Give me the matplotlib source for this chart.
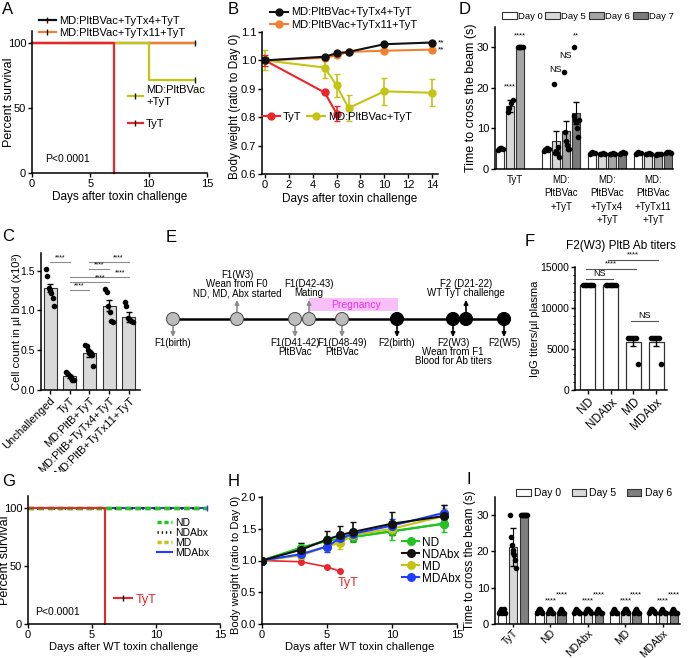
import numpy as np
import matplotlib.pyplot as plt
from matplotlib.lines import Line2D
from matplotlib.patches import Patch, Rectangle, Circle

plt.rcParams['font.family'] = ['Liberation Sans', 'DejaVu Sans']
plt.rcParams['font.size'] = 9
plt.rcParams['axes.linewidth'] = 1.1
plt.rcParams['lines.scale_dashes'] = False

BLACK = '#111111'
ORANGE = '#f47f2f'
YELLOW = '#c4c414'
RED = '#e8262b'
GREEN = '#22c322'
BLUE = '#1f3cff'

# ---------------- data ----------------
# A: survival (step curves)
a_tx4_t, a_tx4_s = [0, 14], [100, 100]
a_tx11_t, a_tx11_s = [0, 14], [100, 100]
a_md_t, a_md_s = [0, 10, 14], [100, 71.4, 71.4]
a_tyt_t, a_tyt_s = [0, 7], [100, 0]

# B: body weight
b_days = [0, 5, 6, 7, 10, 14]
b_tx4 = [1.0, 1.013, 1.025, 1.030, 1.057, 1.063]
b_tx4_err = [0.004, 0.004, 0.004, 0.004, 0.004, 0.004]
b_tx11 = [1.0, 1.009, 1.018, 1.030, 1.034, 1.038]
b_tx11_err = [0.004, 0.004, 0.004, 0.004, 0.004, 0.004]
b_tyt_days = [0, 5, 6]
b_tyt = [1.0, 0.887, 0.813]
b_tyt_err = [0.02, 0.006, 0.025]
b_md = [1.0, 0.975, 0.912, 0.832, 0.891, 0.886]
b_md_err = [0.035, 0.038, 0.04, 0.045, 0.048, 0.047]

# D: beam walk
d_groups = ['TyT', 'MD:\nPltBVac\n+TyT', 'MD:\nPltBVac\n+TyTx4\n+TyT', 'MD:\nPltBVac\n+TyTx11\n+TyT']
d_days = ['Day 0', 'Day 5', 'Day 6', 'Day 7']
d_means = [[5.0, 15.5, 30.0, np.nan],
           [4.8, 7.0, 9.3, 13.8],
           [4.0, 3.8, 3.8, 4.0],
           [4.0, 3.8, 3.6, 4.1]]
d_err = [[0.2, 1.5, 0.0, np.nan],
         [0.3, 2.3, 2.5, 2.7],
         [0.2, 0.2, 0.2, 0.2],
         [0.2, 0.2, 0.2, 0.2]]
d_pts = [[[4.8, 5.0, 5.1, 5.2, 4.9], [14.0, 15.0, 16.2, 17.0], [30, 30, 30, 30, 30], []],
         [[4.5, 4.8, 5.0, 5.2, 4.6, 4.9], [21.0, 4.0, 4.5, 4.0, 5.5, 3.0], [24, 9, 7, 6, 5, 5],
          [30, 13, 12, 11.5, 10, 8, 12]],
         [[3.8, 4.0, 4.2, 4.0, 3.9], [3.6, 3.8, 4.0, 3.8], [3.6, 3.8, 4.0, 3.8], [3.8, 4.0, 4.2, 4.0]],
         [[3.8, 4.0, 4.2, 4.0, 3.9], [3.6, 3.8, 4.0, 3.8], [3.4, 3.6, 3.8, 3.6], [3.9, 4.1, 4.3, 4.0]]]
d_marks = [(0, 1, 19.3, '****'), (0, 2, 32.0, '****'), (1, 1, 23.5, 'NS'),
           (1, 2, 26.8, 'NS'), (1, 3, 32.0, '**')]

# C: cell counts
c_groups = ['Unchallenged', 'TyT', 'MD:PltB+TyT', 'MD:PltB+TyTx4+TyT', 'MD:PltB+TyTx11+TyT']
c_means = [1.28, 0.17, 0.46, 1.06, 0.92]
c_err = [0.055, 0.02, 0.045, 0.07, 0.06]
c_pts = [[1.52, 1.43, 1.28, 1.25, 1.22, 1.15, 1.05],
         [0.23, 0.21, 0.20, 0.18, 0.15, 0.13, 0.12],
         [0.57, 0.55, 0.50, 0.47, 0.46, 0.44, 0.30],
         [1.27, 1.23, 1.05, 0.98, 0.87, 0.85],
         [1.10, 1.05, 0.90, 0.88, 0.87, 0.86]]
c_brackets = [(0, 1, 1.61, 0.5), (2, 4, 1.61, 3.45), (2, 3, 1.52, 2.5),
              (1, 4, 1.42, 3.55), (1, 3, 1.36, 2.55), (1, 2, 1.26, 1.5)]

# E: timeline (events: position, colour, arrow direction, label)
e_events = [(173, 'gray', 'down', 'F1(birth)'),
            (237, 'gray', 'up', 'F1(W3)\nWean from F0\nND, MD, Abx started'),
            (295, 'gray', 'down', 'F1(D41-42)\nPltBVac'),
            (309, 'gray', 'up', 'F1(D42-43)\nMating'),
            (342, 'gray', 'down', 'F1(D48-49)\nPltBVac'),
            (397, 'black', 'down', 'F2(birth)'),
            (453, 'black', 'down', 'F2(W3)\nWean from F1\nBlood for Ab titers'),
            (466, 'black', 'up', 'F2 (D21-22)\nWT TyT challenge'),
            (504, 'black', 'down', 'F2(W5)')]
e_preg = (309, 398)

# F: antibody titers
f_groups = ['ND', 'NDAbx', 'MD', 'MDAbx']
f_means = [12800, 12800, 5867, 5867]
f_err = [0, 0, 533, 533]
f_pts = [[12800] * 7, [12800] * 7, [6400] * 5 + [3200], [6400] * 5 + [3200]]
f_brackets = [(0, 1, 13500, 'NS'), (0, 2, 14750, '****'), (1, 3, 15850, '****'), (2, 3, 8400, 'NS')]

# G: survival WT challenge
g_t = [0, 14]
g_s = [100, 100]
g_tyt_t, g_tyt_s = [0, 6], [100, 0]

# H: body weight WT challenge
h_days = [0, 3, 5, 6, 7, 10, 14]
h_nd = [1.0, 1.20, 1.31, 1.34, 1.37, 1.46, 1.58]
h_nd_err = [0, 0.07, 0.08, 0.08, 0.08, 0.13, 0.13]
h_ndabx = [1.0, 1.17, 1.33, 1.40, 1.45, 1.58, 1.70]
h_ndabx_err = [0, 0.10, 0.13, 0.15, 0.15, 0.18, 0.18]
h_md = [1.0, 1.08, 1.22, 1.28, 1.40, 1.50, 1.70]
h_md_err = [0, 0.05, 0.07, 0.10, 0.08, 0.10, 0.12]
h_mdabx = [1.0, 1.10, 1.22, 1.35, 1.42, 1.55, 1.75]
h_mdabx_err = [0, 0.06, 0.08, 0.10, 0.08, 0.10, 0.12]
h_tyt_days = [0, 3, 5, 6]
h_tyt = [1.0, 0.98, 0.90, 0.83]

# I: beam walk WT challenge
i_groups = ['TyT', 'ND', 'NDAbx', 'MD', 'MDAbx']
i_days = ['Day 0', 'Day 5', 'Day 6']
i_means = [[3.0, 21.3, 30.0], [3.5, 3.3, 3.3], [3.3, 3.5, 3.2], [3.3, 3.5, 3.2], [3.5, 3.3, 3.3]]
i_err = [[0.3, 5.2, 0.0], [0.3, 0.3, 0.3], [0.3, 0.3, 0.3], [0.3, 0.3, 0.3], [0.3, 0.3, 0.3]]
i_pts = [[[3, 3.5, 4, 3, 3.5, 4, 3], [30, 24, 21.7, 20.4, 19.5, 19, 17.6, 15.3], [30] * 7],
         [[3, 3.5, 4, 4, 3.5, 3], [3, 3.5, 4, 3.5, 3, 3], [3, 3.5, 4, 3.5, 3, 3]],
         [[3, 3.5, 4, 3.5, 3, 3], [3, 3.5, 4, 4, 3.5, 3], [3, 3.5, 4, 3.5, 3, 3]],
         [[3, 3.5, 4, 3.5, 3, 3], [3, 3.5, 4, 4, 3.5, 3], [3, 3.5, 4, 3.5, 3, 3]],
         [[3, 3.5, 4, 4, 3.5, 3], [3, 3.5, 4, 3.5, 3, 3], [3, 3.5, 4, 3.5, 3, 3]]]

# ---------------- figure ----------------
W, H = 691, 658
fig = plt.figure(figsize=(W / 100, H / 100), dpi=100)


def add_ax(box, **kw):
    l, t, r, b = box
    ax = fig.add_axes([l / W, 1 - b / H, (r - l) / W, (b - t) / H], **kw)
    ax._box = box
    return ax


def style(ax, fs=8):
    for s in ('top', 'right'):
        ax.spines[s].set_visible(False)
    ax.tick_params(direction='out', length=3, width=1, labelsize=fs, pad=1.2)


def ylab(ax, s, xc, fs=9, yc=None):
    l, t, r, b = ax._box
    ax.set_ylabel(s, fontsize=fs)
    yf = 0.5 if yc is None else (b - yc) / (b - t)
    ax.yaxis.set_label_coords((xc + 0.5 * fs * 1.389 - l) / (r - l), yf)


def xlab(ax, s, yc, fs=9):
    l, t, r, b = ax._box
    ax.set_xlabel(s, fontsize=fs)
    ax.xaxis.set_label_coords(0.5, (b - (yc - 0.55 * fs * 1.389)) / (b - t))


def letter(x, y, s):
    fig.text(x / W, 1 - y / H, s, fontsize=12, va='center', ha='left')


def spread(n, w=0.25):
    return np.linspace(-w, w, n) if n > 1 else np.zeros(n)


# ----- A -----
ax = add_ax((32, 31, 207, 173))
style(ax)
ppu = 175 / 15 * 0.72
ax.step(a_tx4_t, a_tx4_s, where='post', color=BLACK, lw=1.6, clip_on=False)
ax.step(a_tx11_t, a_tx11_s, where='post', color=ORANGE, lw=1.6, clip_on=False,
        linestyle=(4 * ppu, (4 * ppu, 3 * ppu)))
ax.step(a_md_t, a_md_s, where='post', color=YELLOW, lw=1.6)
ax.step(a_tyt_t, a_tyt_s, where='post', color=RED, lw=1.6, clip_on=False)
for t, s in [(a_tx4_t, a_tx4_s), (a_md_t, a_md_s)]:
    ax.plot(t[-1], s[-1], marker='|', color=BLACK, ms=5, mew=1)
ax.set_xlim(0, 15)
ax.set_ylim(0, 109)
ax.set_xticks([0, 5, 10, 15])
ax.set_yticks([0, 50, 100])
xlab(ax, 'Days after toxin challenge', 197, fs=8.5)
ylab(ax, 'Percent survival', 9)
ax.text(0.075, 0.08, 'P<0.0001', transform=ax.transAxes, fontsize=7.5)
leg = ax.legend([Line2D([], [], color=BLACK, lw=1.6, marker='|', ms=4),
                 Line2D([], [], color=ORANGE, lw=1.6, marker='|', ms=4, mec=BLACK)],
                ['MD:PltBVac+TyTx4+TyT', 'MD:PltBVac+TyTx11+TyT'],
                loc='center left', bbox_to_anchor=(0.04, 1.03), frameon=False,
                fontsize=8, handlelength=1.5, handletextpad=0.3, labelspacing=0.15,
                borderaxespad=0, borderpad=0)
ax.add_artist(leg)
ax.legend([Line2D([], [], color=YELLOW, lw=1.6, marker='|', ms=4, mec=BLACK),
           Line2D([], [], color=RED, lw=1.6, marker='|', ms=4, mec=BLACK)],
          ['MD:PltBVac\n+TyT', 'TyT'], loc='upper left', bbox_to_anchor=(0.55, 0.62),
          frameon=False, fontsize=8, handlelength=1.3, handletextpad=0.3,
          labelspacing=1.1, borderaxespad=0, borderpad=0)
letter(2, 9, 'A')

# ----- B -----
ax = add_ax((262, 32, 438, 174))
style(ax)
kw = dict(marker='o', ms=5, lw=1.5, capsize=2.5, elinewidth=1.2)
ax.errorbar(b_days, b_md, yerr=b_md_err, color=YELLOW, **kw)
ax.errorbar(b_tyt_days, b_tyt, yerr=b_tyt_err, color=RED, **kw)
ax.errorbar(b_days, b_tx11, yerr=b_tx11_err, color=ORANGE, **kw)
ax.errorbar(b_days, b_tx4, yerr=b_tx4_err, color=BLACK, **kw)
ax.text(14.45, b_tx4[-1], '**', fontsize=6, va='center')
ax.text(14.45, b_tx11[-1], '**', fontsize=6, va='center')
ax.set_xlim(-0.25, 14.5)
ax.set_ylim(0.6, 1.1)
ax.set_xticks(range(0, 15, 2))
ax.set_yticks([0.6, 0.7, 0.8, 0.9, 1.0, 1.1])
xlab(ax, 'Days after toxin challenge', 199, fs=8.5)
ylab(ax, 'Body weight (ratio to Day 0)', 235, fs=8.5, yc=106)
mk = dict(marker='o', ms=5, lw=1.5)
leg = ax.legend([Line2D([], [], color=BLACK, **mk), Line2D([], [], color=ORANGE, **mk)],
                ['MD:PltBVac+TyTx4+TyT', 'MD:PltBVac+TyTx11+TyT'],
                loc='center left', bbox_to_anchor=(0.045, 1.095), frameon=False, fontsize=8,
                handlelength=1.6, handletextpad=0.3, labelspacing=0.2,
                borderaxespad=0, borderpad=0)
ax.add_artist(leg)
ax.legend([Line2D([], [], color=RED, **mk), Line2D([], [], color=YELLOW, **mk)],
          ['TyT', 'MD:PltBVac+TyT'], loc='center left', bbox_to_anchor=(0.0, 0.40),
          ncol=2, frameon=False, fontsize=8, handlelength=1.6, handletextpad=0.3,
          columnspacing=0.5, borderaxespad=0, borderpad=0)
letter(228, 9, 'B')

# ----- D -----
ax = add_ax((495, 27, 673, 169))
style(ax)
d_colors = ['white', '#d9d9d9', '#a6a6a6', '#7a7a7a']
d_gap = 4.6
for gi in range(len(d_groups)):
    for di in range(4):
        m = d_means[gi][di]
        if np.isnan(m):
            continue
        x = gi * d_gap + (di - 1.5)
        ax.bar(x, m, width=0.8, color=d_colors[di], edgecolor='#333333', lw=0.8, zorder=1)
        if d_err[gi][di] > 0:
            ax.errorbar(x, m, yerr=d_err[gi][di], color='k', capsize=2, lw=0.8, zorder=3)
        pts = d_pts[gi][di]
        ax.plot(x + spread(len(pts)), pts, 'o', ms=3, color='k', zorder=4, clip_on=False)
for gi, di, y, s in d_marks:
    ax.text(gi * d_gap + di - 1.5, y, s, fontsize=6.5 if s == 'NS' else 5.5,
            ha='center', va='bottom')
ax.set_xlim(-2.0, 15.8)
ax.set_ylim(0, 35)
ax.set_yticks([0, 10, 20, 30])
ax.set_xticks([gi * d_gap for gi in range(len(d_groups))])
ax.set_xticklabels(d_groups, fontsize=7, linespacing=1.45, va='top')
ax.tick_params(axis='x', length=0, pad=4)
ylab(ax, 'Time to cross the beam (s)', 471)
ax.legend([Patch(facecolor=c, edgecolor='#333333', lw=0.8) for c in d_colors], d_days,
          loc='center', bbox_to_anchor=(0.52, 1.077), ncol=4, frameon=False, fontsize=6.8,
          handlelength=1.6, handleheight=0.8, handletextpad=0.1, columnspacing=0.3,
          borderaxespad=0, borderpad=0)
letter(459, 9, 'D')

# ----- C -----
ax = add_ax((41, 253, 140, 390))
style(ax, fs=7.5)
cx = np.arange(len(c_groups))
ax.bar(cx, c_means, width=0.66, color='#d9d9d9', edgecolor='#333333', lw=0.8, zorder=1)
ax.errorbar(cx, c_means, yerr=c_err, fmt='none', ecolor='k', capsize=2.5, lw=1, zorder=3)
for i, pts in enumerate(c_pts):
    ax.plot(i + spread(len(pts), 0.2), pts, 'o', ms=3, color='k', zorder=4)
for i, j, y, sx in c_brackets:
    ax.plot([i, j], [y, y], color='#8c8c8c', lw=0.8)
    ax.text(sx, y + 0.005, '****', fontsize=5, ha='center', va='bottom')
ax.set_xlim(-0.46, 4.57)
ax.set_ylim(0, 1.72)
ax.set_yticks([0, 0.5, 1.0, 1.5])
ax.set_xticks(cx)
ax.set_xticklabels(c_groups, rotation=45, ha='right', rotation_mode='anchor', fontsize=8)
ylab(ax, 'Cell count in µl blood (x10³)', 16, fs=8)
letter(2, 237, 'C')

# ----- E -----
ax = add_ax((150, 225, 525, 400))
ax.set_xlim(150, 525)
ax.set_ylim(400, 225)
ax.axis('off')
ly = 319
ax.add_patch(Rectangle((e_preg[0], 298), e_preg[1] - e_preg[0], 13, color='#f8bff8', lw=0, zorder=0))
ax.text((e_preg[0] + e_preg[1]) / 2 + 3, 304.5, 'Pregnancy', color='#e633e6', fontsize=7.5,
        ha='center', va='center')
ax.plot([e_events[0][0], e_events[-1][0]], [ly, ly], color='k', lw=1.8, zorder=1)
for x, c, d, lab in e_events:
    fc = '#bdbdbd' if c == 'gray' else 'k'
    ac = '#8c8c8c' if c == 'gray' else 'k'
    ax.add_patch(Circle((x, ly), 6.5, facecolor=fc, edgecolor='#555555' if c == 'gray' else 'k',
                        lw=0.8, zorder=2))
    if d == 'down':
        ax.annotate('', xy=(x, 337), xytext=(x, 326),
                    arrowprops=dict(arrowstyle='-|>', color=ac, lw=1.2, mutation_scale=6,
                                    shrinkA=0, shrinkB=0))
        ax.text(x, 338, lab, fontsize=7, ha='center', va='top', linespacing=0.85)
    else:
        ax.annotate('', xy=(x, 300), xytext=(x, 312),
                    arrowprops=dict(arrowstyle='-|>', color=ac, lw=1.2, mutation_scale=6,
                                    shrinkA=0, shrinkB=0))
        ax.text(x, 298, lab, fontsize=7, ha='center', va='bottom', linespacing=0.85)
letter(166, 238, 'E')

# ----- F -----
ax = add_ax((575, 267, 667, 390))
style(ax, fs=7.5)
fx = np.arange(len(f_groups))
ax.bar(fx, f_means, width=0.66, color='white', edgecolor='#333333', lw=0.9, zorder=1)
ax.errorbar(fx, f_means, yerr=f_err, fmt='none', ecolor='k', capsize=2.5, lw=1, zorder=3)
for i, pts in enumerate(f_pts):
    ax.plot(i + spread(len(pts), 0.22), pts, 'o', ms=3, color='k', zorder=4)
for i, j, y, s in f_brackets:
    ax.plot([i - 0.1, j + 0.1], [y, y], color='#555555', lw=0.8, clip_on=False)
    ax.text((i + j) / 2, y + 150, s, fontsize=6.5 if s == 'NS' else 5.5, ha='center',
            va='bottom')
ax.set_xlim(-0.57, 3.48)
ax.set_ylim(0, 15000)
ax.set_yticks([0, 5000, 10000, 15000])
ax.set_yticks(np.arange(0, 15001, 1000), minor=True)
ax.tick_params(axis='y', which='minor', length=1.5, width=0.8)
ax.set_xticks(fx)
ax.set_xticklabels(f_groups, rotation=45, ha='right', rotation_mode='anchor', fontsize=8.5)
ylab(ax, 'IgG titers/µl plasma', 534, fs=8)
ax.text(0.5, 1 + 21 / 123, 'F2(W3) PltB Ab titers', transform=ax.transAxes, fontsize=8.5,
        ha='center', va='center')
letter(525, 242, 'F')

# white mask hiding clipped C labels
fig.patches.append(Rectangle((0, 0), 240 / W, 1 - 472 / H, transform=fig.transFigure,
                             facecolor='white', edgecolor='none', zorder=0.5))

# ----- G -----
ax = add_ax((28, 496, 220, 624), zorder=1)
style(ax)
ax.plot(g_t, g_s, color=BLUE, lw=1.5, clip_on=False)
ax.plot(g_t, g_s, color=YELLOW, lw=2.5, linestyle=(0, (4, 3)), clip_on=False)
ax.plot(g_t, g_s, color=BLACK, lw=1.8, linestyle=(2, (1, 3)), clip_on=False)
ax.plot(g_t, g_s, color=GREEN, lw=2.5, linestyle=(0, (4, 3)), clip_on=False)
ax.plot(g_t[-1], g_s[-1], marker='|', color=BLUE, ms=5, mew=1)
ax.step(g_tyt_t, g_tyt_s, where='post', color=RED, lw=1.5, clip_on=False)
ax.set_xlim(0, 15)
ax.set_ylim(0, 110)
ax.set_xticks([0, 5, 10, 15])
ax.set_yticks([0, 50, 100])
xlab(ax, 'Days after WT toxin challenge', 648, fs=8)
ylab(ax, 'Percent survival', 5)
ax.text(0.035, 0.07, 'P<0.0001', transform=ax.transAxes, fontsize=7.5)
leg = ax.legend([Line2D([], [], color=GREEN, lw=2.5, ls=(0, (3, 2))),
                 Line2D([], [], color=BLACK, lw=1.8, ls=(0, (1, 2))),
                 Line2D([], [], color=YELLOW, lw=2.5, ls=(0, (3, 2))),
                 Line2D([], [], color=BLUE, lw=1.5)],
                ['ND', 'NDAbx', 'MD', 'MDAbx'], loc='upper left', bbox_to_anchor=(0.67, 0.83),
                frameon=False, fontsize=7.5, handlelength=1.5, handletextpad=0.3,
                labelspacing=0.0, borderaxespad=0, borderpad=0)
ax.add_artist(leg)
lg = ax.legend([Line2D([], [], color=RED, lw=1.5, marker='|', ms=4, mec=BLACK)], ['TyT'],
               loc='center left', bbox_to_anchor=(0.45, 0.19), frameon=False, fontsize=9,
               handlelength=1.4, handletextpad=0.3, borderaxespad=0, borderpad=0)
for t in lg.get_texts():
    t.set_color(RED)
letter(2, 481, 'G')

# ----- H -----
ax = add_ax((262, 497, 457, 624), zorder=1)
style(ax)
kw = dict(marker='o', ms=5.5, lw=1.5, capsize=2.5, elinewidth=1.2)
ax.errorbar(h_days, h_nd, yerr=h_nd_err, color=GREEN, **kw)
ax.errorbar(h_days, h_md, yerr=h_md_err, color=YELLOW, **kw)
ax.errorbar(h_days, h_mdabx, yerr=h_mdabx_err, color=BLUE, **kw)
ax.errorbar(h_days, h_ndabx, yerr=h_ndabx_err, color=BLACK, **kw)
ax.plot(h_days, h_nd, marker='o', ms=5.5, lw=1.5, color=GREEN)
ax.plot(h_tyt_days, h_tyt, marker='o', ms=4, lw=1.2, color=RED)
ax.text(6.6, 0.64, 'TyT', color=RED, fontsize=9, ha='center', va='center')
ax.set_xlim(0, 15)
ax.set_ylim(0, 2.0)
ax.set_xticks([0, 5, 10, 15])
ax.set_yticks([0, 0.5, 1.0, 1.5, 2.0])
xlab(ax, 'Days after WT toxin challenge', 648, fs=8)
ylab(ax, 'Body weight (ratio to Day 0)', 235, fs=8, yc=565)
mk = dict(marker='o', ms=5.5, lw=1.5)
ax.legend([Line2D([], [], color=c, **mk) for c in (GREEN, BLACK, YELLOW, BLUE)],
          ['ND', 'NDAbx', 'MD', 'MDAbx'], loc='center left', bbox_to_anchor=(0.72, 0.50),
          frameon=False, fontsize=8.5, handlelength=1.4, handletextpad=0.3,
          labelspacing=0.0, borderaxespad=0, borderpad=0)
letter(228, 482, 'H')

# ----- I -----
ax = add_ax((495, 497, 680, 624), zorder=1)
style(ax)
i_colors = ['white', '#d9d9d9', '#7f7f7f']
i_gap = 3.41
for gi in range(len(i_groups)):
    for di in range(3):
        x = gi * i_gap + (di - 1)
        m = i_means[gi][di]
        ax.bar(x, m, width=0.75, color=i_colors[di], edgecolor='#333333', lw=0.8, zorder=1)
        if i_err[gi][di] > 0:
            ax.errorbar(x, m, yerr=i_err[gi][di], color='k', capsize=2, lw=0.8, zorder=3)
        pts = i_pts[gi][di]
        ax.plot(x + spread(len(pts)), pts, 'o', ms=3, color='k', zorder=4, clip_on=False)
    if gi > 0:
        ax.text(gi * i_gap, 6.5, '****', fontsize=5.5, ha='center', va='center')
        ax.text(gi * i_gap + 1, 7.9, '****', fontsize=5.5, ha='center', va='center')
ax.set_xlim(-1.64, 15.2)
ax.set_ylim(0, 35)
ax.set_yticks([0, 10, 20, 30])
ax.set_xticks([gi * i_gap for gi in range(len(i_groups))])
ax.set_xticklabels(i_groups, rotation=45, ha='right', rotation_mode='anchor', fontsize=7.5)
ax.tick_params(axis='x', length=2.5, pad=0.5)
ylab(ax, 'Time to cross the beam (s)', 470, fs=8.5)
ax.legend([Patch(facecolor=c, edgecolor='#333333', lw=0.8) for c in i_colors], i_days,
          loc='center', bbox_to_anchor=(0.535, 1.03), ncol=3, frameon=False, fontsize=7.5,
          handlelength=1.4, handleheight=0.7, handletextpad=0.3, columnspacing=1.0,
          borderaxespad=0, borderpad=0)
letter(467, 479, 'I')

fig.savefig('out.png', dpi=100)
